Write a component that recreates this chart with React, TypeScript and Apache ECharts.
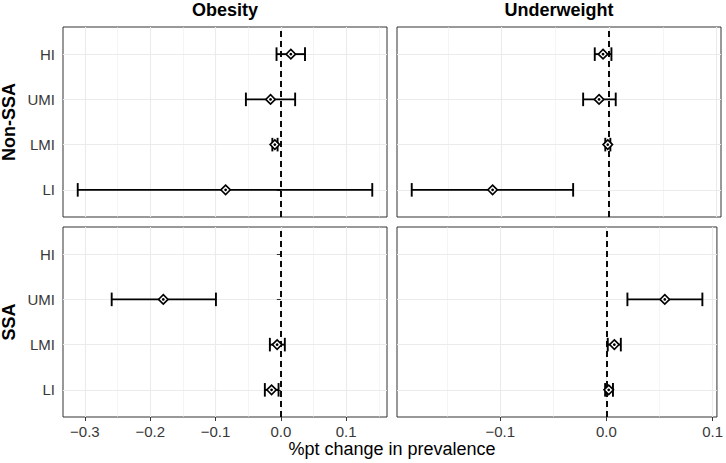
import React, { useEffect, useRef } from 'react';
import * as echarts from 'echarts';

// ---- data ----
const categories = ['LI', 'LMI', 'UMI', 'HI'];
const columnLabels = ['Obesity', 'Underweight'];
const rowLabels = ['Non-SSA', 'SSA'];
const xTitle = '%pt change in prevalence';

// Obesity, Non-SSA (order: LI, LMI, UMI, HI)
const obesityNonSSAEst = [-0.0846, -0.0092, -0.0158, 0.0153];
const obesityNonSSALow = [-0.311, -0.013, -0.0535, -0.0066];
const obesityNonSSAHigh = [0.14, -0.005, 0.0219, 0.037];

// Obesity, SSA
const obesitySSAEst = [-0.0142, -0.0057, -0.18, null];
const obesitySSALow = [-0.0245, -0.0168, -0.259, null];
const obesitySSAHigh = [-0.0035, 0.0061, -0.0994, null];

// Underweight, Non-SSA
const underNonSSAEst = [-0.1083, -0.0012, -0.0093, -0.0056];
const underNonSSALow = [-0.1835, -0.0035, -0.0241, -0.0133];
const underNonSSAHigh = [-0.0334, 0.0012, 0.0062, 0.0022];

// Underweight, SSA
const underSSAEst = [0.0022, 0.0075, 0.055, null];
const underSSALow = [-0.0012, 0.0013, 0.0198, null];
const underSSAHigh = [0.0062, 0.0136, 0.0904, null];

const obesityBreaks = [-0.3, -0.2, -0.1, 0.0, 0.1];
const obesityMinor = [-0.25, -0.15, -0.05, 0.05, 0.15];
const underBreaks = [-0.1, 0.0, 0.1];
const underMinor = [-0.15, -0.05, 0.05];

type Panel = {
  row: number;
  col: number;
  est: (number | null)[];
  low: (number | null)[];
  high: (number | null)[];
};

const panels: Panel[] = [
  { row: 0, col: 0, est: obesityNonSSAEst, low: obesityNonSSALow, high: obesityNonSSAHigh },
  { row: 0, col: 1, est: underNonSSAEst, low: underNonSSALow, high: underNonSSAHigh },
  { row: 1, col: 0, est: obesitySSAEst, low: obesitySSALow, high: obesitySSAHigh },
  { row: 1, col: 1, est: underSSAEst, low: underSSALow, high: underSSAHigh },
];

const FONT = 'Liberation Sans, Arial, Helvetica, sans-serif';
const GRID_LEFT = [63, 397];
const GRID_TOP = [27, 227];
const GRID_W = 324;
const GRID_H = 190;
const CAP = 0.15;
const TICK_COLOR = '#383838';

function colRange(col: number): [number, number] {
  const ps = panels.filter((p) => p.col === col);
  const lows = ps.flatMap((p) => p.low).filter((v): v is number => v != null);
  const highs = ps.flatMap((p) => p.high).filter((v): v is number => v != null);
  const mn = Math.min(...lows);
  const mx = Math.max(...highs);
  const pad = (mx - mn) * 0.05;
  return [mn - pad, mx + pad];
}

const fmtX = (v: number) => {
  const s = Math.abs(v).toFixed(1);
  return v < -1e-9 ? '\u2212' + s : s;
};

export default function App() {
  const ref = useRef<HTMLDivElement>(null);

  useEffect(() => {
    document.body.style.margin = '0';
    if (!ref.current) return;
    const chart = echarts.init(ref.current, undefined, { renderer: 'svg' });

    const grids: any[] = [];
    const xAxes: any[] = [];
    const yAxes: any[] = [];
    const series: any[] = [];

    panels.forEach((p, i) => {
      const [mn, mx] = colRange(p.col);
      const breaks = p.col === 0 ? obesityBreaks : underBreaks;
      const minor = p.col === 0 ? obesityMinor : underMinor;
      grids.push({
        left: GRID_LEFT[p.col],
        top: GRID_TOP[p.row],
        width: GRID_W,
        height: GRID_H,
        show: true,
        borderColor: '#333333',
        borderWidth: 1,
        backgroundColor: 'transparent',
      });
      xAxes.push({
        type: 'value',
        gridIndex: i,
        min: mn,
        max: mx,
        position: 'bottom',
        axisLine: { show: false },
        axisTick: {
          show: p.row === 1,
          customValues: breaks,
          length: 4,
          lineStyle: { color: '#333333', width: 1 },
        },
        axisLabel: {
          show: p.row === 1,
          customValues: breaks,
          formatter: (v: number) => fmtX(v),
          margin: 7,
          fontSize: 15,
          color: TICK_COLOR,
          fontFamily: FONT,
        },
        splitLine: { show: true, lineStyle: { color: '#ebebeb', width: 1.1 } },
      });
      xAxes.push({
        type: 'value',
        gridIndex: i,
        min: mn,
        max: mx,
        position: 'top',
        axisLine: { show: false },
        axisTick: { show: false, customValues: minor },
        axisLabel: { show: false, customValues: minor },
        splitLine: { show: true, lineStyle: { color: '#ebebeb', width: 0.55 } },
      });
      yAxes.push({
        type: 'value',
        gridIndex: i,
        min: 0.4,
        max: 4.6,
        axisLine: { show: false },
        axisTick: {
          show: p.col === 0,
          customValues: [1, 2, 3, 4],
          length: 4,
          lineStyle: { color: '#333333', width: 1 },
        },
        axisLabel: {
          show: p.col === 0,
          customValues: [1, 2, 3, 4],
          formatter: (v: number) => categories[Math.round(v) - 1] ?? '',
          margin: 8,
          fontSize: 15,
          color: TICK_COLOR,
          fontFamily: FONT,
        },
        splitLine: { show: true, lineStyle: { color: '#ebebeb', width: 1.1 } },
      });

      const barData: number[][] = [];
      const ptData: number[][] = [];
      categories.forEach((_, k) => {
        const e = p.est[k];
        const lo = p.low[k];
        const hi = p.high[k];
        if (e == null || lo == null || hi == null) return;
        barData.push([k + 1, lo, hi]);
        ptData.push([e, k + 1]);
      });

      series.push({
        type: 'custom',
        xAxisIndex: 2 * i,
        yAxisIndex: i,
        data: barData,
        encode: { x: [1, 2], y: 0 },
        silent: true,
        renderItem: (_params: any, api: any) => {
          const y = api.value(0);
          const lo = api.value(1);
          const hi = api.value(2);
          const a = api.coord([lo, y]);
          const b = api.coord([hi, y]);
          const t = api.coord([lo, y + CAP]);
          const h = Math.abs(a[1] - t[1]);
          const st = { stroke: '#000000', lineWidth: 1.9 };
          return {
            type: 'group',
            children: [
              { type: 'line', shape: { x1: a[0], y1: a[1], x2: b[0], y2: b[1] }, style: st },
              { type: 'line', shape: { x1: a[0], y1: a[1] - h, x2: a[0], y2: a[1] + h }, style: st },
              { type: 'line', shape: { x1: b[0], y1: b[1] - h, x2: b[0], y2: b[1] + h }, style: st },
            ],
          };
        },
        markLine: {
          silent: true,
          symbol: ['none', 'none'],
          label: { show: false },
          lineStyle: { color: '#000000', width: 1.9, type: [6, 4] },
          data: [{ xAxis: 0 }],
        },
      });
      series.push({
        type: 'scatter',
        xAxisIndex: 2 * i,
        yAxisIndex: i,
        data: ptData,
        symbol: 'diamond',
        symbolSize: 9.5,
        silent: true,
        itemStyle: { color: '#ffffff', borderColor: '#000000', borderWidth: 1.6, opacity: 1 },
        z: 5,
      });
      series.push({
        type: 'scatter',
        xAxisIndex: 2 * i,
        yAxisIndex: i,
        data: ptData,
        symbol: 'circle',
        symbolSize: 2.8,
        silent: true,
        itemStyle: { color: '#000000', opacity: 1 },
        z: 6,
      });
    });

    const graphics: any[] = [];
    columnLabels.forEach((lab, c) => {
      graphics.push({
        type: 'text',
        x: GRID_LEFT[c] + GRID_W / 2,
        y: 10,
        style: {
          text: lab,
          fontSize: 18,
          fontWeight: 'bold',
          fontFamily: FONT,
          fill: '#000000',
          align: 'center',
          verticalAlign: 'middle',
        },
      });
    });
    rowLabels.forEach((lab, r) => {
      graphics.push({
        type: 'text',
        x: 9,
        y: GRID_TOP[r] + GRID_H / 2,
        rotation: Math.PI / 2,
        style: {
          text: lab,
          fontSize: 18,
          fontWeight: 'bold',
          fontFamily: FONT,
          fill: '#000000',
          align: 'center',
          verticalAlign: 'middle',
        },
      });
    });
    graphics.push({
      type: 'text',
      x: (GRID_LEFT[0] + GRID_LEFT[1] + GRID_W) / 2,
      y: 449,
      style: {
        text: xTitle,
        fontSize: 18,
        fontFamily: FONT,
        fill: '#000000',
        align: 'center',
        verticalAlign: 'middle',
      },
    });

    chart.setOption({
      animation: false,
      backgroundColor: '#ffffff',
      grid: grids,
      xAxis: xAxes,
      yAxis: yAxes,
      series,
      graphic: graphics,
    });

    return () => chart.dispose();
  }, []);

  return <div ref={ref} style={{ width: 726, height: 463 }} />;
}
